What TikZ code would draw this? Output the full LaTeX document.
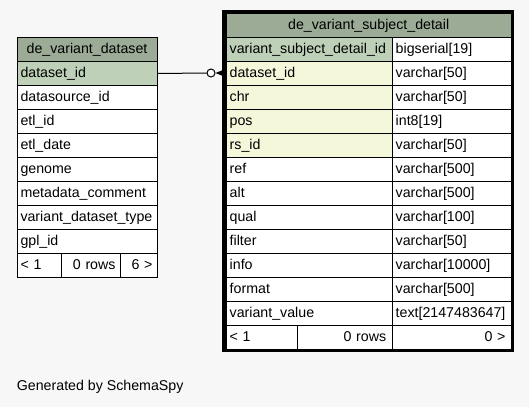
\documentclass[tikz,border=0pt]{standalone}
\usepackage{fontspec}
\newfontfamily\schemafont{Liberation Sans}
\newcommand\cellfont{\schemafont\fontsize{14.2pt}{17pt}\selectfont}
\definecolor{bgc}{HTML}{F7F7F7}
\definecolor{headc}{HTML}{9BAB96}
\definecolor{pkc}{HTML}{BED1B8}
\definecolor{idxc}{HTML}{F4F7DA}
\begin{document}
\begin{tikzpicture}[x=1pt,y=-1pt,
  cell/.style={draw=black, line width=1pt, inner xsep=3.5pt, inner ysep=0pt,
    minimum height=24pt, text height=10.5pt, text depth=2.5pt,
    anchor=north west, fill=white, font=\cellfont, align=left},
  hcell/.style={cell, fill=headc, align=center},
  rcell/.style={cell, inner xsep=5pt, align=right},
  conn/.style={draw=black, line width=1pt}]
\useasboundingbox (0,0) rectangle (529,407);
\fill[bgc] (0,0) rectangle (529,407);

% left table: de_variant_dataset
\node[hcell, text width=133pt] (lh) at (16.5,37) {de\_variant\_dataset};
\node[cell, fill=pkc, text width=133pt] (l1) at (16.5,61) {dataset\_id};
\node[cell, text width=133pt] (l2) at (16.5,85) {datasource\_id};
\node[cell, text width=133pt] (l3) at (16.5,109) {etl\_id};
\node[cell, text width=133pt] (l4) at (16.5,133) {etl\_date};
\node[cell, text width=133pt] (l5) at (16.5,157) {genome};
\node[cell, text width=133pt] (l6) at (16.5,181) {metadata\_comment};
\node[cell, text width=133pt] (l7) at (16.5,205) {variant\_dataset\_type};
\node[cell, text width=133pt] (l8) at (16.5,229) {gpl\_id};
\node[cell, text width=37.5pt] (lf1) at (16.5,253) {< 1};
\node[rcell, text width=49pt] (lf2) at (61,253) {0 rows};
\node[rcell, text width=27.5pt, inner xsep=4.5pt] (lf3) at (120,253) {6 >};

% right table: de_variant_subject_detail
\node[hcell, text width=278pt] (rh) at (225.7,13) {de\_variant\_subject\_detail};
\node[cell, fill=pkc, text width=159pt] (r1) at (225.7,37) {variant\_subject\_detail\_id};
\node[cell, text width=112pt] (t1) at (391.7,37) {bigserial[19]};
\node[cell, fill=idxc, text width=159pt] (r2) at (225.7,61) {dataset\_id};
\node[cell, text width=112pt] (t2) at (391.7,61) {varchar[50]};
\node[cell, fill=idxc, text width=159pt] (r3) at (225.7,85) {chr};
\node[cell, text width=112pt] (t3) at (391.7,85) {varchar[50]};
\node[cell, fill=idxc, text width=159pt] (r4) at (225.7,109) {pos};
\node[cell, text width=112pt] (t4) at (391.7,109) {int8[19]};
\node[cell, fill=idxc, text width=159pt] (r5) at (225.7,133) {rs\_id};
\node[cell, text width=112pt] (t5) at (391.7,133) {varchar[50]};
\node[cell, text width=159pt] (r6) at (225.7,157) {ref};
\node[cell, text width=112pt] (t6) at (391.7,157) {varchar[500]};
\node[cell, text width=159pt] (r7) at (225.7,181) {alt};
\node[cell, text width=112pt] (t7) at (391.7,181) {varchar[500]};
\node[cell, text width=159pt] (r8) at (225.7,205) {qual};
\node[cell, text width=112pt] (t8) at (391.7,205) {varchar[100]};
\node[cell, text width=159pt] (r9) at (225.7,229) {filter};
\node[cell, text width=112pt] (t9) at (391.7,229) {varchar[50]};
\node[cell, text width=159pt] (r10) at (225.7,253) {info};
\node[cell, text width=112pt] (t10) at (391.7,253) {varchar[10000]};
\node[cell, text width=159pt] (r11) at (225.7,277) {format};
\node[cell, text width=112pt] (t11) at (391.7,277) {varchar[500]};
\node[cell, text width=159pt] (r12) at (225.7,301) {variant\_value};
\node[cell, text width=112pt] (t12) at (391.7,301) {text[2147483647]};
\node[cell, text width=64pt] (rf1) at (225.7,325) {< 1};
\node[rcell, text width=83pt, inner xsep=6pt] (rf2) at (296.7,325) {0 rows};
\node[rcell, text width=107.6pt, inner xsep=5.7pt] (rf3) at (391.7,325) {0 >};

% thick border of the selected table
\draw[line width=3.5pt] (224,11.5) rectangle (512.5,350.3);

% connector
\node[draw=black, line width=1pt, fill=white, circle, inner sep=0pt,
  minimum size=8pt] (circ) at (211,73) {};
\draw[conn] (l1.east) -- (circ.west);
\fill[black] (circ.east) -- (222.5,70.2) -- (222.5,75.8) -- cycle;

% footer
\node[anchor=base west, inner sep=0pt, font=\cellfont] (gen) at (16.7,390) {Generated by SchemaSpy};
\end{tikzpicture}
\end{document}
